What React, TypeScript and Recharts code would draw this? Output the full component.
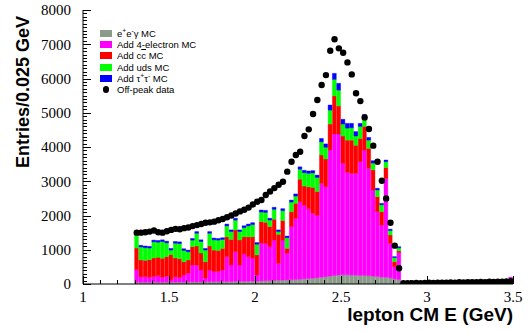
import { Bar, ComposedChart, Line, XAxis, YAxis } from "recharts";

// bin centres, 0.025 GeV wide, 1.3 .. 3.5 GeV
const binCenter = [
  1.3125, 1.3375, 1.3625, 1.3875, 1.4125, 1.4375, 1.4625, 1.4875,
  1.5125, 1.5375, 1.5625, 1.5875, 1.6125, 1.6375, 1.6625, 1.6875,
  1.7125, 1.7375, 1.7625, 1.7875, 1.8125, 1.8375, 1.8625, 1.8875,
  1.9125, 1.9375, 1.9625, 1.9875, 2.0125, 2.0375, 2.0625, 2.0875,
  2.1125, 2.1375, 2.1625, 2.1875, 2.2125, 2.2375, 2.2625, 2.2875,
  2.3125, 2.3375, 2.3625, 2.3875, 2.4125, 2.4375, 2.4625, 2.4875,
  2.5125, 2.5375, 2.5625, 2.5875, 2.6125, 2.6375, 2.6625, 2.6875,
  2.7125, 2.7375, 2.7625, 2.7875, 2.8125, 2.8375, 2.8625, 2.8875,
  2.9125, 2.9375, 2.9625, 2.9875, 3.0125, 3.0375, 3.0625, 3.0875,
  3.1125, 3.1375, 3.1625, 3.1875, 3.2125, 3.2375, 3.2625, 3.2875,
  3.3125, 3.3375, 3.3625, 3.3875, 3.4125, 3.4375, 3.4625, 3.4875,
];

// stacked MC, bottom to top
const eeGamma = [
  50, 50, 50, 50, 50, 50, 50, 55, 55, 55, 55, 55, 60, 60, 60, 60, 60, 65, 65, 65,
  70, 70, 70, 75, 75, 80, 80, 85, 85, 90, 95, 100, 105, 110, 115, 120, 125, 130, 140, 150,
  160, 170, 180, 200, 210, 230, 250, 260, 270, 270, 260, 260, 250, 250, 240, 230, 220, 200, 200, 180,
  150, 130,
];
const fourElectron = [
  370, 160, 170, 150, 170, 190, 150, 175, 65, 155, 135, 205, 260, 495, 490, 350, 115, 345, 295, 305,
  340, 730, 485, 870, 480, 800, 720, 665, 178, 1100, 1085, 990, 1180, 494, 1170, 775, 1550, 1787, 2260, 2150,
  2040, 1894, 1820, 2740, 2630, 3680, 4130, 4120, 3254, 2990, 2970, 2970, 3320, 3660, 3140, 2515, 1890, 1523, 2885, 1010,
  355, 785,
  0, 0, 0, 0, 0, 0, 0, 0, 0, 0, 0, 0, 0, 0, 0, 0, 0, 0, 0, 0, 0, 0, 0, 0, 0, 200,
];
const ccbar = [
  630, 490, 470, 510, 540, 540, 550, 570, 740, 550, 550, 390, 380, 535, 560, 495, 475, 700, 630, 610,
  630, 580, 745, 632, 730, 500, 580, 630, 587, 630, 620, 585, 605, 846, 565, 145, 435, 438, 660, 560,
  640, 756, 700, 826, 810, 760, 1110, 817, 796, 940, 970, 820, 680, 690, 580, 585, 440, 387, 315, 240,
  145, 55,
];
const uds = [
  410, 380, 370, 340, 470, 440, 490, 400, 130, 430, 440, 330, 240, 190, 370, 335, 340, 370, 300, 300,
  260, 315, 230, 288, 245, 265, 315, 355, 310, 280, 290, 190, 290, 80, 290, 310, 280, 210, 290, 390,
  390, 420, 410, 384, 340, 406, 485, 463, 350, 350, 360, 270, 350, 260, 240, 200, 195, 200, 170, 130,
  120, 85,
];
const tauTau = [
  40, 50, 50, 50, 50, 50, 50, 50, 50, 50, 50, 50, 50, 50, 50, 50, 50, 50, 50, 50,
  50, 55, 50, 55, 50, 55, 55, 55, 50, 60, 60, 55, 60, 50, 60, 50, 60, 65, 70, 70,
  70, 70, 70, 100, 100, 150, 175, 200, 140, 140, 130, 130, 90, 90, 80, 70, 50, 45, 50, 40,
  30, 35,
];
const offPeak = [
  1500, 1500, 1510, 1530, 1560, 1510, 1500, 1540, 1580, 1610, 1600, 1630, 1650, 1690, 1720, 1750, 1790, 1800, 1820, 1860,
  1900, 1950, 2000, 2060, 2120, 2170, 2230, 2320, 2403, 2452, 2598, 2700, 2800, 2900, 2987, 3280, 3570, 3766, 3863, 4320,
  4516, 4963, 5372, 5810, 6100, 6810, 7145, 6880, 6750, 6470, 6120, 5570, 5340, 4860, 4525, 4040, 3570, 3016, 2500, 1790,
  1120, 458,
  20, 25, 20, 30, 25, 30, 35, 30, 40, 35, 40, 45, 40, 50, 45, 55, 50, 55, 60, 55, 65, 60, 70, 65, 75, 80,
];

const xTicks = [1, 1.1, 1.2, 1.3, 1.4, 1.5, 1.6, 1.7, 1.8, 1.9, 2, 2.1, 2.2, 2.3, 2.4, 2.5, 2.6, 2.7, 2.8, 2.9, 3, 3.1, 3.2, 3.3, 3.4, 3.5];
const yMajor = [0, 1000, 2000, 3000, 4000, 5000, 6000, 7000, 8000];
const yTicks: number[] = [];
yMajor.forEach((v) => {
  if (v < 8000) for (let k = 0; k < 10; k++) yTicks.push(v + k * 100);
  else yTicks.push(v);
});

const isXMajor = (v: number) => Math.abs(v * 2 - Math.round(v * 2)) < 1e-6;
const isYMajor = (v: number) => v % 1000 === 0;

const COLORS = {
  eeg: "#8a9b8a",
  fourE: "#ff00ff",
  cc: "#ff0000",
  uds: "#00ff00",
  tau: "#0000ff",
};

const rows = binCenter.map((x, i) => ({
  x,
  eeg: eeGamma[i] ?? 0,
  fourE: fourElectron[i] ?? 0,
  cc: ccbar[i] ?? 0,
  uds: uds[i] ?? 0,
  tau: tauTau[i] ?? 0,
  data: offPeak[i],
}));

const TICK_FONT = "'Liberation Serif', 'Times New Roman', serif";
const SANS = "'Liberation Sans', Arial, Helvetica, sans-serif";

// ROOT style: ticks point into the frame
function XTick({ x, y, payload }: any) {
  const v = payload.value as number;
  const major = isXMajor(v);
  const px = Math.round(x) + 0.5;
  return (
    <g>
      <line x1={px} x2={px} y1={y} y2={y - (major ? 8 : 4)} stroke="#000" strokeWidth={1} shapeRendering="crispEdges" />
      {major && (
        <text x={x} y={y + 7} dy="0.71em" textAnchor="middle" fontFamily={TICK_FONT} fontSize={15} fill="#000">
          {String(v)}
        </text>
      )}
    </g>
  );
}

function YTick({ x, y, payload }: any) {
  const v = payload.value as number;
  const major = isYMajor(v);
  const py = Math.round(y) + 0.5;
  return (
    <g>
      <line x1={x} x2={x + (major ? 8 : 4)} y1={py} y2={py} stroke="#000" strokeWidth={1} shapeRendering="crispEdges" />
      {major && (
        <text x={x - 12} y={y} dy="0.35em" textAnchor="end" fontFamily={TICK_FONT} fontSize={15} fill="#000">
          {String(v)}
        </text>
      )}
    </g>
  );
}

const sup = { fontSize: "0.7em", verticalAlign: "super", lineHeight: 0 } as const;

function LegendRow({ top, swatch, children }: { top: number; swatch: React.ReactNode; children: React.ReactNode }) {
  return (
    <div style={{ position: "absolute", left: 100, top, height: 11, display: "flex", alignItems: "center" }}>
      <div style={{ width: 12, display: "flex", justifyContent: "center" }}>{swatch}</div>
      <span style={{ marginLeft: 5, fontFamily: SANS, fontSize: 9.5, whiteSpace: "nowrap", color: "#000" }}>{children}</span>
    </div>
  );
}

const box = (c: string) => <div style={{ width: 12, height: 7, background: c }} />;

export default function App() {
  return (
    <div style={{ position: "absolute", left: 0, top: 0, width: 528, height: 332, background: "#fff" }}>
      <ComposedChart
        width={528}
        height={332}
        data={rows}
        margin={{ top: 10, right: 15, left: 8, bottom: 18 }}
        barCategoryGap={0}
        barGap={0}
      >
        <Bar dataKey="eeg" stackId="h" fill={COLORS.eeg} stroke={COLORS.eeg} strokeWidth={0.4} barSize={4.3} isAnimationActive={false} />
        <Bar dataKey="fourE" stackId="h" fill={COLORS.fourE} stroke={COLORS.fourE} strokeWidth={0.4} barSize={4.3} isAnimationActive={false} />
        <Bar dataKey="cc" stackId="h" fill={COLORS.cc} stroke={COLORS.cc} strokeWidth={0.4} barSize={4.3} isAnimationActive={false} />
        <Bar dataKey="uds" stackId="h" fill={COLORS.uds} stroke={COLORS.uds} strokeWidth={0.4} barSize={4.3} isAnimationActive={false} />
        <Bar dataKey="tau" stackId="h" fill={COLORS.tau} stroke={COLORS.tau} strokeWidth={0.4} barSize={4.3} isAnimationActive={false} />
        <Line
          dataKey="data"
          stroke="none"
          dot={{ r: 3.2, fill: "#000", stroke: "none" }}
          activeDot={false}
          isAnimationActive={false}
        />
        <XAxis
          type="number"
          dataKey="x"
          domain={[1, 3.5]}
          ticks={xTicks}
          interval={0}
          allowDataOverflow
          tickSize={0}
          tickMargin={0}
          tickLine={false}
          tick={<XTick />}
          axisLine={{ stroke: "#000" }}
          height={30}
        />
        <YAxis
          type="number"
          domain={[0, 8000]}
          ticks={yTicks}
          interval={0}
          allowDataOverflow
          tickSize={0}
          tickMargin={0}
          tickLine={false}
          tick={<YTick />}
          axisLine={{ stroke: "#000" }}
          width={75}
        />
      </ComposedChart>

      <div
        style={{
          position: "absolute",
          left: 23,
          top: 92,
          transform: "translate(-50%, -50%) rotate(-90deg)",
          fontFamily: SANS,
          fontWeight: "bold",
          fontSize: 18,
          whiteSpace: "nowrap",
        }}
      >
        Entries/0.025 GeV
      </div>
      <div
        style={{
          position: "absolute",
          right: 15,
          top: 304,
          fontFamily: SANS,
          fontWeight: "bold",
          fontSize: 19,
          whiteSpace: "nowrap",
          lineHeight: "22px",
        }}
      >
        lepton CM E (GeV)
      </div>

      <LegendRow top={28} swatch={box(COLORS.eeg)}>
        e<span style={sup}>+</span>e<span style={sup}>-</span>&gamma; MC
      </LegendRow>
      <LegendRow top={39} swatch={box(COLORS.fourE)}>Add 4-electron MC</LegendRow>
      <LegendRow top={50} swatch={box(COLORS.cc)}>
        Add c<span style={{ textDecoration: "overline" }}>c</span> MC
      </LegendRow>
      <LegendRow top={61.5} swatch={box(COLORS.uds)}>Add uds MC</LegendRow>
      <LegendRow top={72.5} swatch={box(COLORS.tau)}>
        Add &tau;<span style={sup}>+</span>&tau;<span style={sup}>-</span> MC
      </LegendRow>
      <LegendRow top={84} swatch={<div style={{ width: 6.4, height: 6.4, borderRadius: "50%", background: "#000" }} />}>
        Off-peak data
      </LegendRow>
    </div>
  );
}
